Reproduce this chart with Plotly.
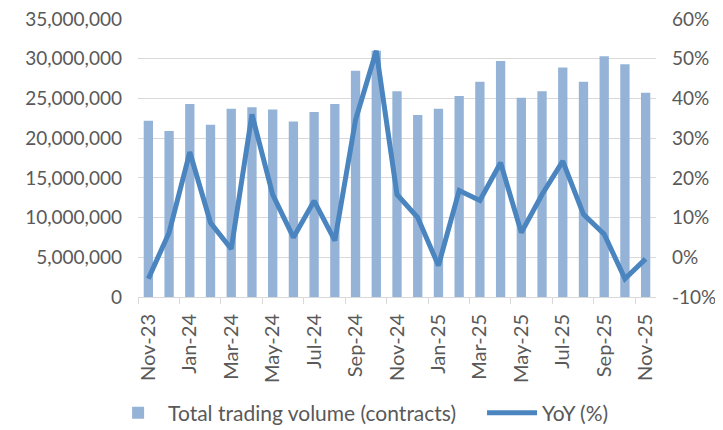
import plotly.graph_objects as go

months = ["Nov-23", "Dec-23", "Jan-24", "Feb-24", "Mar-24", "Apr-24", "May-24", "Jun-24",
          "Jul-24", "Aug-24", "Sep-24", "Oct-24", "Nov-24", "Dec-24", "Jan-25", "Feb-25",
          "Mar-25", "Apr-25", "May-25", "Jun-25", "Jul-25", "Aug-25", "Sep-25", "Oct-25", "Nov-25"]
volume = [22.2e6, 20.9e6, 24.3e6, 21.7e6, 23.7e6, 23.9e6, 23.6e6, 22.1e6,
          23.3e6, 24.3e6, 28.5e6, 31.0e6, 25.9e6, 22.9e6, 23.7e6, 25.3e6,
          27.1e6, 29.7e6, 25.1e6, 25.9e6, 28.9e6, 27.1e6, 30.3e6, 29.3e6, 25.7e6]
yoy = [-5.4, 6.2, 26.5, 8.7, 2.1, 36.0, 15.8, 5.0,
       14.2, 4.2, 34.6, 52.0, 15.8, 10.0, -2.1, 16.8,
       14.3, 23.8, 6.2, 15.8, 24.2, 10.8, 5.8, -5.4, -0.4]
yoy_tickvals = [-10, 0, 10, 20, 30, 40, 50, 60]
yoy_ticktext = ["-10%", "0%", "10%", "20%", "30%", "40%", "50%", "60%"]

font_family = "Lato, Carlito, Calibri, sans-serif"
txt = "#595959"

fig = go.Figure()
fig.add_trace(go.Bar(x=months, y=volume, name="Total trading volume (contracts)",
                     marker=dict(color="#95b3d7", line=dict(width=0)), legend="legend"))
fig.add_trace(go.Scatter(x=months, y=yoy, name="YoY (%)", yaxis="y2", mode="lines",
                         line=dict(color="#4a85bf", width=5), legend="legend2"))

# page body has an 8px margin, so the figure is sized 8px smaller
fig.update_layout(
    width=715, height=422,
    margin=dict(l=130, r=67, t=11, b=133, autoexpand=False),
    plot_bgcolor="white", paper_bgcolor="white",
    font=dict(family=font_family, size=19, color=txt),
    bargap=0.55,
    showlegend=True,
    legend=dict(orientation="h", x=0.14, xanchor="left", xref="container",
                y=0.04, yanchor="middle", yref="container",
                font=dict(size=21, color=txt), itemwidth=50),
    legend2=dict(orientation="h", x=0.663, xanchor="left", xref="container",
                 y=0.04, yanchor="middle", yref="container",
                 font=dict(size=21, color=txt), itemwidth=50),
    xaxis=dict(type="category", tickangle=-90, dtick=2, tickson="boundaries",
               ticks="outside", ticklen=6, tickcolor="#d9d9d9",
               showline=True, linecolor="#d9d9d9", linewidth=1,
               showgrid=False, automargin=False, ticklabelstandoff=8,
               ticklabeloverflow="allow", tickfont=dict(size=20, color=txt)),
    yaxis=dict(range=[0, 35e6], dtick=5e6, tickformat=",", showgrid=True,
               gridcolor="#d9d9d9", gridwidth=1, zeroline=False, automargin=False,
               ticklabelstandoff=15, ticklabeloverflow="allow",
               tickfont=dict(size=19, color=txt)),
    yaxis2=dict(range=[-10, 60], tickvals=yoy_tickvals, ticktext=yoy_ticktext,
                overlaying="y", side="right",
                showgrid=False, zeroline=False, automargin=False,
                ticklabelstandoff=15, ticklabeloverflow="allow",
                tickfont=dict(size=19, color=txt)),
)

fig.write_html("out.html")
